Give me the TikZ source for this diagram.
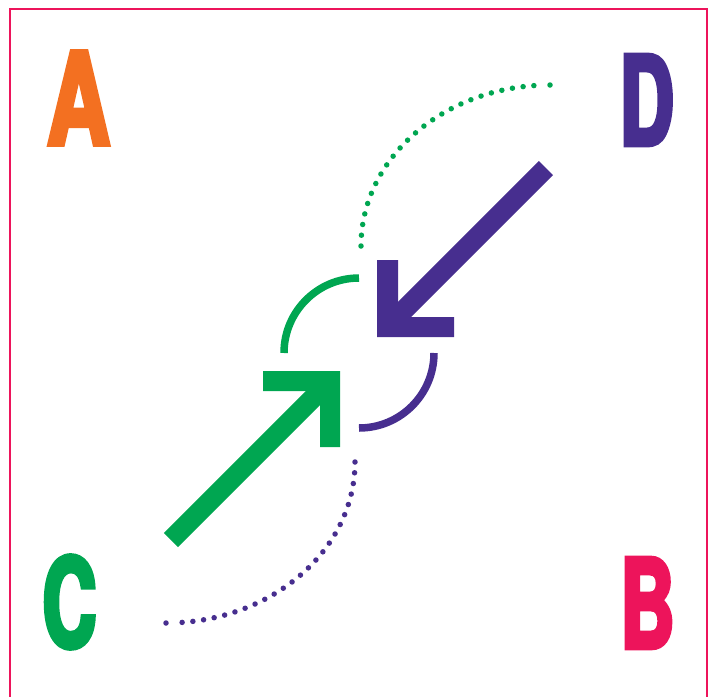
\documentclass[tikz,border=0pt]{standalone}
\usepackage{fontspec}
\newfontfamily\letterfont[FakeStretch=0.6,FakeBold=3.5]{TeX Gyre Heros}
\newfontfamily\letterfontA[FakeStretch=0.68,FakeBold=3.5]{TeX Gyre Heros}
\definecolor{cOrange}{HTML}{F37021}
\definecolor{cPurple}{HTML}{472E8F}
\definecolor{cGreen}{HTML}{00A651}
\definecolor{cPink}{HTML}{ED145B}
\tikzset{
  letter/.style={inner sep=0pt, font=\letterfont\bfseries\fontsize{124}{124}\selectfont},
  letterA/.style={inner sep=0pt, font=\letterfontA\bfseries\fontsize{128}{128}\selectfont},
  shaft/.style={line width=20pt, line cap=butt},
  ringarc/.style={line width=7.5pt, line cap=butt},
  dots/.style={line width=5.5pt, line cap=round, dash pattern=on 0pt off 10.8pt},
}
\begin{document}
\begin{tikzpicture}[x=1pt,y=-1pt]
\useasboundingbox (0,0) rectangle (716,697);
% frame
\draw[cPink, line width=2pt] (10,699) -- (10,9) -- (707,9) -- (707,699);
% letters
\node[letterA, text=cOrange] (A) at (78.5,98) {A};
\node[letter, text=cPurple] (D) at (647,100) {D};
\node[letter, text=cGreen]  (C) at (69.5,602) {C};
\node[letter, text=cPink]   (B) at (647.5,603) {B};
% coordinates
\coordinate (gtail) at (171,540);
\coordinate (ghead) at (332,379);
\coordinate (ptail) at (546,168);
\coordinate (phead) at (385,329);
\coordinate (garcS) at (359,278);
\coordinate (parcS) at (434,353);
\coordinate (gdotS) at (361,246);
\coordinate (gdotE) at (550,85);
\coordinate (pdotS) at (355,462);
\coordinate (pdotE) at (166,623);
% green arrow
\draw[shaft, cGreen] (gtail) -- (ghead);
\fill[cGreen] (263,371) -- (340,371) -- (340,447) -- (320,447) -- (320,391) -- (263,391) -- cycle;
% purple arrow
\draw[shaft, cPurple] (ptail) -- (phead);
\fill[cPurple] (377,260) -- (398,260) -- (398,317) -- (454,317) -- (454,337) -- (377,337) -- cycle;
% solid arcs
\draw[ringarc, cGreen] (garcS) arc[start angle=90, end angle=180, radius=75pt];
\draw[ringarc, cPurple] (parcS) arc[start angle=0, end angle=-90, radius=75pt];
% dotted arcs
\draw[dots, cGreen] (gdotS) arc[start angle=180, end angle=94, x radius=189pt, y radius=161pt];
\fill[cGreen] (gdotE) circle[radius=2.75pt];
\draw[dots, cPurple] (pdotS) arc[start angle=0, end angle=-86, x radius=189pt, y radius=161pt];
\fill[cPurple] (pdotE) circle[radius=2.75pt];
\end{tikzpicture}
\end{document}
